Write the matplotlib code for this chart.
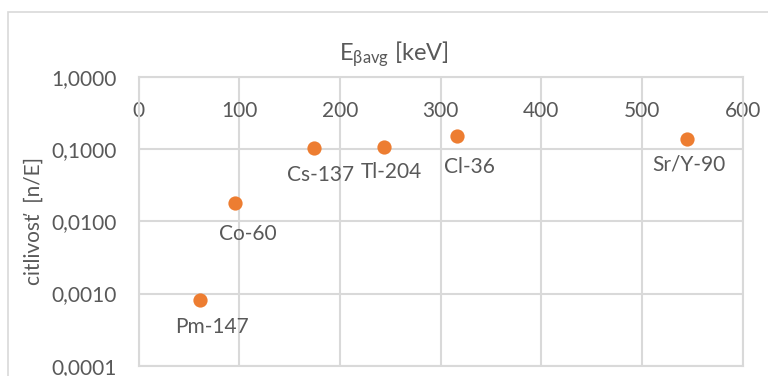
import numpy as np
import matplotlib
matplotlib.use("Agg")
import matplotlib.pyplot as plt
from matplotlib.patches import Rectangle

plt.rcParams['font.family'] = ['Lato', 'DejaVu Sans']
plt.rcParams['mathtext.fontset'] = 'custom'
plt.rcParams['mathtext.rm'] = 'Lato'

# data
isotopes = ['Pm-147', 'Co-60', 'Cs-137', 'Tl-204', 'Cl-36', 'Sr/Y-90']
energy = [61, 96, 174, 244, 316, 545]
sensitivity = [0.00081, 0.0177, 0.1026, 0.106, 0.152, 0.137]
# label offsets below the points (points)
label_dx = [9, 9, 5, 5, 9, 1]
label_dy = [-19, -22, -19, -18, -22, -18]

xticks = [0, 100, 200, 300, 400, 500, 600]
yticks = [0.0001, 0.001, 0.01, 0.1, 1.0]
ytick_labels = ['0,0001', '0,0010', '0,0100', '0,1000', '1,0000']

txt = '#595959'
grid = '#D9D9D9'

fig = plt.figure(figsize=(7.68, 3.76), dpi=100)
fig.patches.append(Rectangle((8 / 768, -0.2), 1.2, 1.2 - 12 / 376,
                             transform=fig.transFigure, fill=False,
                             edgecolor=grid, linewidth=1.2))
ax = fig.add_axes([138.5 / 768, 1 - 365.7 / 376, (742.7 - 138.5) / 768, (365.7 - 77) / 376])

ax.scatter(energy, sensitivity, s=105, color='#ED7D31', zorder=3, linewidths=0)
for name, x, y, dx, dy in zip(isotopes, energy, sensitivity, label_dx, label_dy):
    ax.annotate(name, (x, y), xytext=(dx, dy), textcoords='offset points',
                ha='center', va='center', fontsize=15, color=txt)

ax.set_yscale('log')
ax.set_xlim(0, 600)
ax.set_ylim(0.0001, 1.0)
ax.set_xticks(xticks)
ax.set_yticks(yticks)
ax.set_yticklabels(ytick_labels)
ax.yaxis.set_minor_locator(matplotlib.ticker.NullLocator())
ax.grid(True, color=grid, linewidth=1.5)
ax.set_axisbelow(True)
for s in ax.spines.values():
    s.set_color(grid)
    s.set_linewidth(1.5)

ax.tick_params(axis='x', bottom=False, labelbottom=False, top=True, labeltop=True,
               length=0, pad=-32, labelsize=15, labelcolor=txt)
ax.tick_params(axis='y', length=0, pad=16, labelsize=15, labelcolor=txt)

ax.set_ylabel('citlivosť  [n/E]', fontsize=15, color=txt, labelpad=5)
fig.text(394 / 768, 1 - 60.7 / 376, r'$\mathregular{E_{βavg}}$ [keV]',
         ha='center', va='baseline', fontsize=17, color=txt)

fig.savefig('out.png', dpi=100)
